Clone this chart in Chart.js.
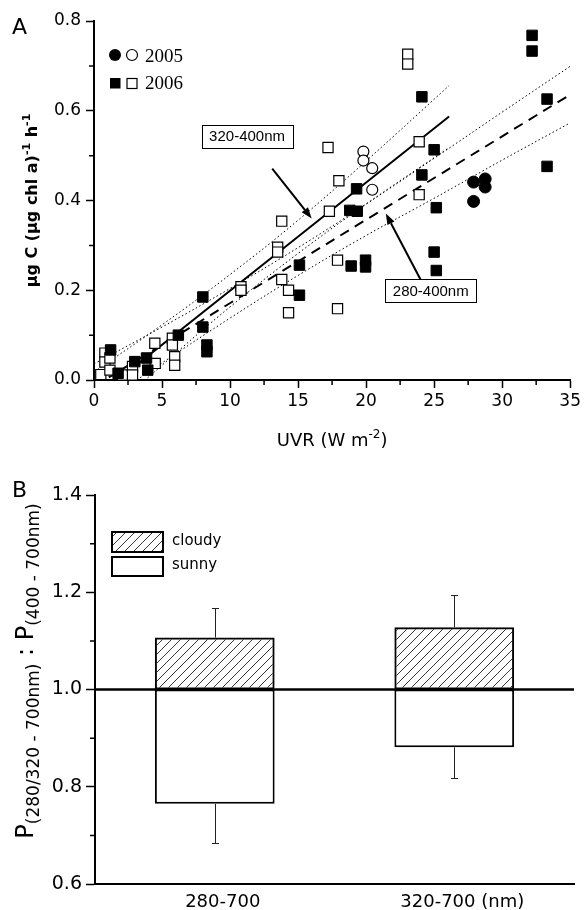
<!DOCTYPE html>
<html>
<head>
<meta charset="utf-8">
<script src="https://cdn.jsdelivr.net/npm/chart.js@4.4.0/dist/chart.umd.min.js"></script>
<style>
  body { margin: 0; background: #fff; width: 584px; height: 910px; position: relative; overflow: hidden; }
  #boxA { position: absolute; left: 0; top: 0; }
  #boxB { position: absolute; left: 0; top: 460px; }
</style>
</head>
<body>
<canvas id="boxA" width="584" height="460"></canvas>
<canvas id="boxB" width="584" height="450"></canvas>
<script>
// ---- panel A: UVR vs production, 2005 circles / 2006 squares ----
const closed05X = [27.9, 28.75, 28.75, 27.9];
const closed05Y = [0.441, 0.448, 0.430, 0.398];
const open05X = [19.8, 19.8, 20.45, 20.45];
const open05Y = [0.509, 0.489, 0.472, 0.424];

const closed06X = [1.22, 1.77, 3.0, 3.86, 3.95, 6.2, 8.0, 8.0, 8.3, 8.3, 15.1, 15.1, 18.8, 19.35, 19.3, 18.9,
                   19.96, 19.96, 24.1, 25.0, 24.1, 25.16, 25.0, 25.16, 32.2, 32.2, 33.3, 33.3];
const closed06Y = [0.067, 0.015, 0.041, 0.049, 0.022, 0.100, 0.185, 0.118, 0.078, 0.063, 0.256, 0.189, 0.378, 0.376, 0.426, 0.254,
                   0.267, 0.252, 0.631, 0.513, 0.457, 0.384, 0.285, 0.244, 0.768, 0.733, 0.626, 0.476];

const open06X = [0.5, 0.8, 0.8, 1.17, 1.17, 2.1, 2.83, 2.83, 4.47, 4.5, 5.76, 5.76, 5.93, 5.93, 10.8, 10.8,
                 13.8, 13.5, 13.5, 13.8, 14.3, 14.3, 17.3, 17.9, 17.9, 17.2, 18.0, 23.06, 23.06, 23.9, 23.9];
const open06Y = [0.012, 0.060, 0.040, 0.049, 0.022, 0.011, 0.030, 0.011, 0.082, 0.037, 0.093, 0.078, 0.052, 0.033, 0.208, 0.200,
                 0.354, 0.296, 0.285, 0.224, 0.200, 0.150, 0.376, 0.267, 0.159, 0.518, 0.444, 0.726, 0.704, 0.531, 0.413];

// regression lines and 95% bands
const fit320X = [0, 26.1];
const fit320Y = [-0.042, 0.587];
const band320X = [0, 5, 10, 15, 20, 26.1];
const band320Hi = [0.018, 0.123, 0.235, 0.356, 0.488, 0.656];
const band320Lo = [-0.102, 0.033, 0.163, 0.282, 0.392, 0.518];

const fit280X = [0, 35];
const fit280Y = [-0.0145, 0.636];
const band280X = [0, 5, 10, 15, 20, 25, 30, 35];
const band280Hi = [0.036, 0.118, 0.204, 0.295, 0.392, 0.494, 0.597, 0.699];
const band280Lo = [-0.065, 0.038, 0.138, 0.233, 0.322, 0.405, 0.490, 0.573];

const noteText = ['320-400nm', '280-400nm'];
const noteX = [11.25, 24.75];
const noteY = [0.543, 0.199];
const arrowFromX = [13.1, 24.0];
const arrowFromY = [0.471, 0.224];
const arrowToX = [16.0, 21.45];
const arrowToY = [0.36, 0.371];

const xMinorA = [2.5, 7.5, 12.5, 17.5, 22.5, 27.5, 32.5];
const yMinorA = [0.1, 0.3, 0.5, 0.7];

// ---- panel B: ratio bars ----
const categories = ['280-700', '320-700 (nm)'];
const baseLine = [1.0, 1.0];
const cloudyTop = [1.107, 1.128];
const cloudyErr = [1.167, 1.195];
const sunnyBottom = [0.765, 0.881];
const sunnyErr = [0.685, 0.817];
const yMinorB = [0.7, 0.9, 1.1, 1.3];

Chart.defaults.font.family = 'DejaVu Sans';
Chart.defaults.color = '#000';

const pts = (xs, ys) => xs.map((x, i) => ({ x: x, y: ys[i] }));

function drawRich(ctx, parts, x, y, rot) {
    ctx.save();
    ctx.translate(x, y);
    ctx.rotate(rot);
    let total = 0;
    parts.forEach(p => { ctx.font = p[1]; total += ctx.measureText(p[0]).width; });
    let cx = -total / 2;
    ctx.textAlign = 'left';
    ctx.textBaseline = 'alphabetic';
    ctx.fillStyle = '#000';
    parts.forEach(p => {
        ctx.font = p[1];
        ctx.fillText(p[0], cx, p[2]);
        cx += ctx.measureText(p[0]).width;
    });
    ctx.restore();
}

// small ticks between the labelled ones
const minorTicks = {
    id: 'minorTicks',
    afterDraw(chart, args, opts) {
        const ctx = chart.ctx;
        const a = chart.chartArea;
        ctx.save();
        ctx.strokeStyle = '#000';
        ctx.lineWidth = 1.5;
        ctx.beginPath();
        (opts.x || []).forEach(v => {
            const px = chart.scales.x.getPixelForValue(v);
            ctx.moveTo(px, a.bottom);
            ctx.lineTo(px, a.bottom + opts.len);
        });
        (opts.y || []).forEach(v => {
            const py = chart.scales.y.getPixelForValue(v);
            ctx.moveTo(a.left, py);
            ctx.lineTo(a.left - opts.len, py);
        });
        ctx.stroke();
        ctx.restore();
    }
};

function arrow(ctx, x0, y0, x1, y1) {
    const ang = Math.atan2(y1 - y0, x1 - x0);
    const hl = 11, hw = 4;
    const bx = x1 - hl * Math.cos(ang), by = y1 - hl * Math.sin(ang);
    ctx.beginPath();
    ctx.moveTo(x0, y0);
    ctx.lineTo(bx, by);
    ctx.stroke();
    ctx.beginPath();
    ctx.moveTo(x1, y1);
    ctx.lineTo(bx + hw * Math.sin(ang), by - hw * Math.cos(ang));
    ctx.lineTo(bx - hw * Math.sin(ang), by + hw * Math.cos(ang));
    ctx.closePath();
    ctx.fill();
}

const decorA = {
    id: 'decorA',
    afterDraw(chart) {
        const ctx = chart.ctx;
        const { x, y } = chart.scales;
        ctx.save();
        ctx.strokeStyle = '#000';
        ctx.fillStyle = '#000';
        ctx.lineWidth = 2;
        noteText.forEach((t, i) => {
            arrow(ctx, x.getPixelForValue(arrowFromX[i]), y.getPixelForValue(arrowFromY[i]),
                x.getPixelForValue(arrowToX[i]), y.getPixelForValue(arrowToY[i]));
            const cx = x.getPixelForValue(noteX[i]), cy = y.getPixelForValue(noteY[i]);
            ctx.fillStyle = '#fff';
            ctx.fillRect(cx - 45.5, cy - 11.5, 91, 23);
            ctx.lineWidth = 1;
            ctx.strokeRect(Math.round(cx - 45.5) + 0.5, Math.round(cy - 11.5) + 0.5, 91, 23);
            ctx.fillStyle = '#000';
            ctx.font = '15px "Liberation Sans"';
            ctx.textAlign = 'center';
            ctx.textBaseline = 'middle';
            ctx.fillText(t, cx, cy + 1);
            ctx.lineWidth = 2;
        });

        // legend
        ctx.lineWidth = 1.2;
        ctx.beginPath(); ctx.arc(115, 55, 6, 0, Math.PI * 2); ctx.fill();
        ctx.beginPath(); ctx.arc(132, 55, 5.5, 0, Math.PI * 2); ctx.stroke();
        ctx.fillRect(110, 78, 10.5, 10.5);
        ctx.strokeRect(127, 78.5, 10, 10);
        ctx.font = '19px "Liberation Serif"';
        ctx.textAlign = 'left';
        ctx.textBaseline = 'alphabetic';
        ctx.fillText('2005', 145, 62);
        ctx.fillText('2006', 145, 89);

        ctx.font = '22px "DejaVu Sans"';
        ctx.fillText('A', 12, 34);
        ctx.restore();

        drawRich(ctx, [
            ['UVR (W m', '18px "DejaVu Sans"', 0],
            ['-2', '12px "DejaVu Sans"', -8],
            [')', '18px "DejaVu Sans"', 0]
        ], (chart.chartArea.left + chart.chartArea.right) / 2, 446, 0);

        drawRich(ctx, [
            ['\u03bcg C (\u03bcg chl a)', 'bold 16px "DejaVu Sans"', 0],
            ['-1', 'bold 11px "DejaVu Sans"', -7],
            [' h', 'bold 16px "DejaVu Sans"', 0],
            ['-1', 'bold 11px "DejaVu Sans"', -7]
        ], 37, (chart.chartArea.top + chart.chartArea.bottom) / 2, -Math.PI / 2);
    }
};

const lineStyle = (xs, ys, dash, width) => ({
    data: pts(xs, ys),
    showLine: true,
    pointRadius: 0,
    borderColor: '#000',
    borderWidth: width,
    borderDash: dash,
    fill: false,
    tension: 0.4,
    order: 2,
    clip: 0
});

new Chart(document.getElementById('boxA'), {
    type: 'scatter',
    data: {
        datasets: [
            lineStyle(band320X, band320Hi, [1.5, 2.5], 1),
            lineStyle(band320X, band320Lo, [1.5, 2.5], 1),
            lineStyle(band280X, band280Hi, [1.5, 2.5], 1),
            lineStyle(band280X, band280Lo, [1.5, 2.5], 1),
            lineStyle(fit320X, fit320Y, [], 2),
            lineStyle(fit280X, fit280Y, [10, 7], 2),
            { data: pts(open06X, open06Y), pointStyle: 'rect', pointRadius: 7.2, backgroundColor: '#fff', borderColor: '#000', borderWidth: 1.2, order: 1, clip: 0 },
            { data: pts(closed06X, closed06Y), pointStyle: 'rect', pointRadius: 7.4, backgroundColor: '#000', borderColor: '#000', borderWidth: 1, order: 0, clip: 0 },
            { data: pts(open05X, open05Y), pointStyle: 'circle', pointRadius: 5.5, backgroundColor: '#fff', borderColor: '#000', borderWidth: 1.2, order: 1, clip: 0 },
            { data: pts(closed05X, closed05Y), pointStyle: 'circle', pointRadius: 6, backgroundColor: '#000', borderColor: '#000', borderWidth: 1, order: 0, clip: 0 }
        ]
    },
    options: {
        responsive: false,
        animation: false,
        events: [],
        layout: { padding: { left: 0, top: 21, right: 12, bottom: 0 } },
        plugins: {
            legend: { display: false },
            tooltip: { enabled: false },
            minorTicks: { x: xMinorA, y: yMinorA, len: 5 }
        },
        scales: {
            x: {
                type: 'linear', min: 0, max: 35,
                ticks: { stepSize: 5, font: { size: 17 }, padding: 3, maxRotation: 0 },
                grid: { drawOnChartArea: false, tickLength: 8, tickWidth: 1.5, tickColor: '#000' },
                border: { color: '#000', width: 2 },
                afterFit: s => { s.height = 80; }
            },
            y: {
                min: 0, max: 0.8,
                ticks: { stepSize: 0.2, font: { size: 17 }, padding: 5, callback: v => v.toFixed(1) },
                grid: { drawOnChartArea: false, tickLength: 8, tickWidth: 1.5, tickColor: '#000' },
                border: { color: '#000', width: 2 },
                afterFit: s => { s.width = 94; }
            }
        }
    },
    plugins: [minorTicks, decorA]
});

// ---- panel B ----
const canvasB = document.getElementById('boxB');
const hatch = (() => {
    const c = document.createElement('canvas');
    c.width = 9; c.height = 9;
    const g = c.getContext('2d');
    g.strokeStyle = '#000';
    g.lineWidth = 0.8;
    g.beginPath();
    g.moveTo(-1, 10); g.lineTo(10, -1);
    g.moveTo(-1, 1); g.lineTo(1, -1);
    g.moveTo(8, 10); g.lineTo(10, 8);
    g.stroke();
    return canvasB.getContext('2d').createPattern(c, 'repeat');
})();

const decorB = {
    id: 'decorB',
    afterDatasetsDraw(chart) {
        const ctx = chart.ctx;
        const { x, y } = chart.scales;
        const a = chart.chartArea;
        ctx.save();
        ctx.strokeStyle = '#222';
        ctx.lineWidth = 1;
        categories.forEach((c, i) => {
            const px = Math.round(x.getPixelForValue(i)) + 0.5;
            [[cloudyTop[i], cloudyErr[i]], [sunnyBottom[i], sunnyErr[i]]].forEach(([from, to]) => {
                const y0 = y.getPixelForValue(from), y1 = Math.round(y.getPixelForValue(to)) + 0.5;
                ctx.beginPath();
                ctx.moveTo(px, y0); ctx.lineTo(px, y1);
                ctx.moveTo(px - 3.5, y1); ctx.lineTo(px + 3.5, y1);
                ctx.stroke();
            });
        });
        const py = y.getPixelForValue(baseLine[0]);
        ctx.strokeStyle = '#000';
        ctx.lineWidth = 2.5;
        ctx.beginPath();
        ctx.moveTo(a.left, py); ctx.lineTo(a.right, py);
        ctx.stroke();
        ctx.restore();
    },
    afterDraw(chart) {
        const ctx = chart.ctx;
        ctx.save();
        ctx.strokeStyle = '#000';
        ctx.lineWidth = 2;
        ctx.fillStyle = hatch;
        ctx.fillRect(112, 72, 51, 20);
        ctx.strokeRect(112, 72, 51, 20);
        ctx.fillStyle = '#fff';
        ctx.fillRect(112, 97, 51, 19);
        ctx.strokeRect(112, 97, 51, 19);
        ctx.fillStyle = '#000';
        ctx.font = '15px "DejaVu Sans"';
        ctx.textBaseline = 'middle';
        ctx.fillText('cloudy', 172, 81);
        ctx.fillText('sunny', 172, 105);
        ctx.font = '22px "DejaVu Sans"';
        ctx.textBaseline = 'alphabetic';
        ctx.fillText('B', 12, 37);
        ctx.restore();

        drawRich(ctx, [
            ['P', '24px "DejaVu Sans"', 0],
            ['(280/320 - 700nm)', '17px "DejaVu Sans"', 6],
            [' : P', '24px "DejaVu Sans"', 0],
            ['(400 - 700nm)', '17px "DejaVu Sans"', 6]
        ], 33, 211, -Math.PI / 2);
    }
};

new Chart(canvasB, {
    type: 'bar',
    data: {
        labels: categories,
        datasets: [
            {
                label: 'cloudy',
                data: categories.map((c, i) => [baseLine[i], cloudyTop[i]]),
                backgroundColor: hatch, borderColor: '#000', borderWidth: 2, borderSkipped: false,
                grouped: false, barPercentage: 0.5, categoryPercentage: 1
            },
            {
                label: 'sunny',
                data: categories.map((c, i) => [sunnyBottom[i], baseLine[i]]),
                backgroundColor: '#fff', borderColor: '#000', borderWidth: 2, borderSkipped: false,
                grouped: false, barPercentage: 0.5, categoryPercentage: 1
            }
        ]
    },
    options: {
        responsive: false,
        animation: false,
        events: [],
        layout: { padding: { left: 0, top: 35, right: 10, bottom: 0 } },
        plugins: {
            legend: { display: false },
            tooltip: { enabled: false },
            minorTicks: { y: yMinorB, len: 5 }
        },
        scales: {
            x: {
                ticks: { font: { size: 18 }, padding: 0, labelOffset: 8, maxRotation: 0 },
                grid: { display: false },
                border: { color: '#000', width: 2 },
                afterFit: s => { s.height = 26; }
            },
            y: {
                min: 0.6, max: 1.4,
                ticks: { stepSize: 0.2, font: { size: 19 }, padding: 4, callback: v => v.toFixed(1) },
                grid: { drawOnChartArea: false, tickLength: 9, tickWidth: 1.5, tickColor: '#000' },
                border: { color: '#000', width: 2 },
                afterFit: s => { s.width = 95; }
            }
        }
    },
    plugins: [minorTicks, decorB]
});
</script>
</body>
</html>
